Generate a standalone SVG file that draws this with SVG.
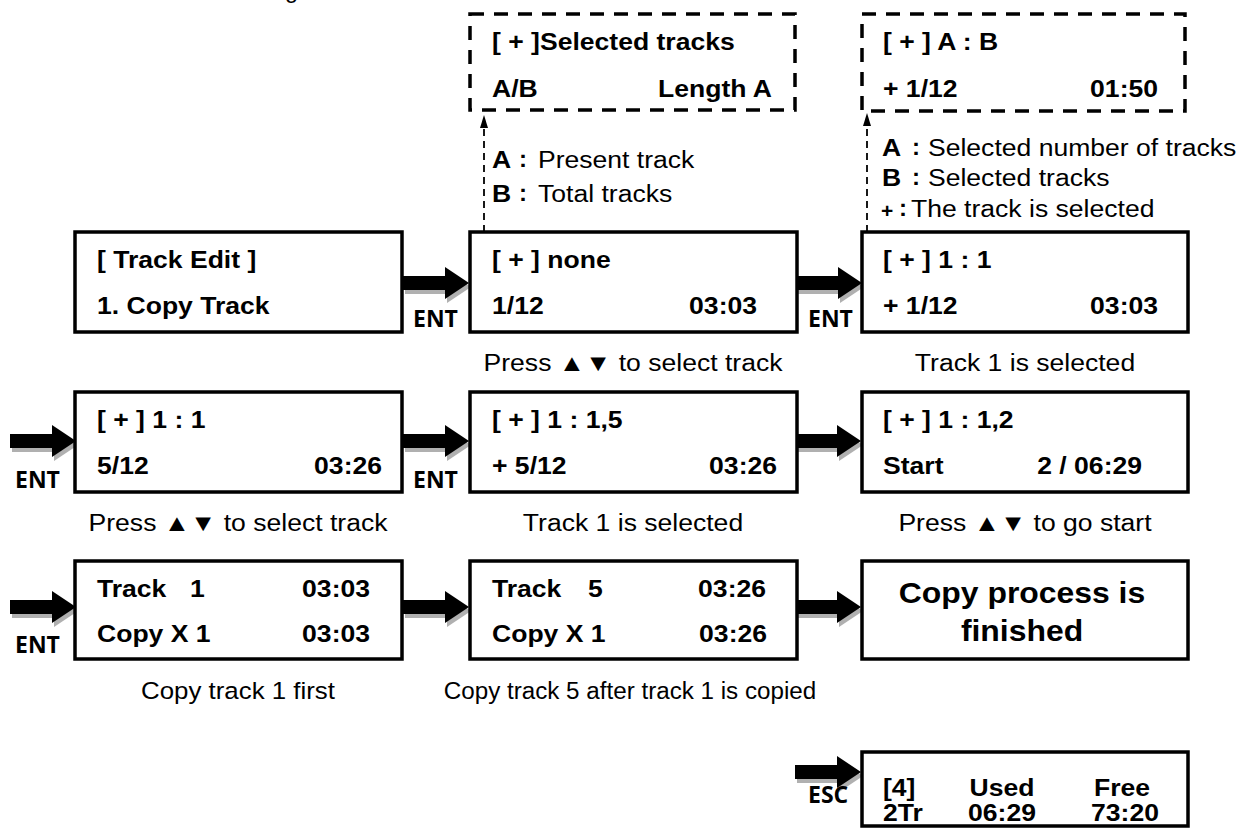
<svg xmlns="http://www.w3.org/2000/svg" xmlns:xlink="http://www.w3.org/1999/xlink" width="1246" height="828" viewBox="0 0 1246 828">
<style>
.b{font-family:"Liberation Sans",Arial,sans-serif;font-weight:bold;font-size:23.5px;fill:#000}
.r{font-family:"Liberation Sans",Arial,sans-serif;font-size:23.5px;fill:#000}
.big{font-family:"Liberation Sans",Arial,sans-serif;font-weight:bold;font-size:29px;fill:#000}
.ent{font-family:"Open Sans",sans-serif;font-weight:bold;font-size:23px;fill:#000}
.col{font-family:"Liberation Sans",Arial,sans-serif;font-size:24px;font-weight:bold;fill:#000}
.box{fill:#fff;stroke:#000;stroke-width:3.5}
.dbox{fill:none;stroke:#000;stroke-width:3.5;stroke-dasharray:14 10}
.dl{stroke:#000;stroke-width:1.8;stroke-dasharray:7 5;fill:none}
.sh{fill:#b0b0b0}
.mid{text-anchor:middle}
.end{text-anchor:end}
</style>
<defs>
<g id="arr">
<polygon class="sh" transform="translate(2,4)" points="-66,-7 -24,-7 -24,-16 0,0 -24,16 -24,7 -66,7"/>
<polygon fill="#000" points="-66,-7 -24,-7 -24,-16 0,0 -24,16 -24,7 -66,7"/>
</g>
</defs>
<rect width="1246" height="828" fill="#fff"/>
<text class="r" x="285" y="-2">g</text>

<g id="connectors">
<use xlink:href="#arr" x="469" y="283"/>
<use xlink:href="#arr" x="862" y="283"/>
<use xlink:href="#arr" x="76" y="441"/>
<use xlink:href="#arr" x="469" y="441"/>
<use xlink:href="#arr" x="861" y="441"/>
<use xlink:href="#arr" x="76" y="607"/>
<use xlink:href="#arr" x="469" y="607"/>
<use xlink:href="#arr" x="861" y="607"/>
<use xlink:href="#arr" x="861" y="772"/>
<line class="dl" x1="484" y1="232" x2="484" y2="126"/>
<polygon points="484,115 480,128 488,128" fill="#000"/>
<line class="dl" x1="867" y1="232" x2="867" y2="124"/>
<polygon points="867,113 863,126 871,126" fill="#000"/>
<text class="ent" x="413" y="327">ENT</text>
<text class="ent" x="808" y="327">ENT</text>
<text class="ent" x="15" y="488">ENT</text>
<text class="ent" x="413" y="488">ENT</text>
<text class="ent" x="15" y="653">ENT</text>
<text class="ent" x="808" y="803">ESC</text>
</g>

<g id="info-a">
<rect class="dbox" x="470" y="14" width="325" height="96"/>
<text class="b" transform="translate(492 50) scale(1.13 1)">[ + ]Selected tracks</text>
<text class="b" transform="translate(492 97) scale(1.13 1)">A/B</text>
<text class="b end" transform="translate(772 97) scale(1.13 1)">Length A</text>
</g>
<g id="legend-a">
<text class="b" transform="translate(492 168) scale(1.13 1)">A</text>
<text class="col mid" x="523" y="167">:</text>
<text class="r" transform="translate(538 168) scale(1.13 1)">Present track</text>
<text class="b" transform="translate(492 202) scale(1.13 1)">B</text>
<text class="col mid" x="523" y="201">:</text>
<text class="r" transform="translate(538 202) scale(1.13 1)">Total tracks</text>
</g>
<g id="info-b">
<rect class="dbox" x="862" y="14" width="323" height="97"/>
<text class="b" transform="translate(883 50) scale(1.13 1)">[ + ] A : B</text>
<text class="b" transform="translate(883 97) scale(1.13 1)">+ 1/12</text>
<text class="b end" transform="translate(1158 97) scale(1.13 1)">01:50</text>
</g>
<g id="legend-b">
<text class="b" transform="translate(882 156) scale(1.13 1)">A</text>
<text class="col mid" x="916" y="155">:</text>
<text class="r" transform="translate(928 156) scale(1.13 1)">Selected number of tracks</text>
<text class="b" transform="translate(882 186) scale(1.13 1)">B</text>
<text class="col mid" x="916" y="185">:</text>
<text class="r" transform="translate(928 186) scale(1.13 1)">Selected tracks</text>
<text class="b" style="font-size:21px" x="881" y="218">+</text>
<text class="col mid" x="903" y="216">:</text>
<text class="r" transform="translate(911 217) scale(1.13 1)">The track is selected</text>
</g>

<g id="n1">
<rect class="box" x="75" y="232" width="327" height="100"/>
<text class="b" transform="translate(97 268) scale(1.13 1)">[ Track Edit ]</text>
<text class="b" transform="translate(97 314) scale(1.13 1)">1. Copy Track</text>
</g>
<g id="n2">
<rect class="box" x="470" y="232" width="327" height="100"/>
<text class="b" transform="translate(492 268) scale(1.13 1)">[ + ] none</text>
<text class="b" transform="translate(492 314) scale(1.13 1)">1/12</text>
<text class="b end" transform="translate(757 314) scale(1.13 1)">03:03</text>
<text class="r mid" transform="translate(633 371) scale(1.13 1)">Press ▲▼ to select track</text>
</g>
<g id="n3">
<rect class="box" x="862" y="232" width="326" height="100"/>
<text class="b" transform="translate(883 268) scale(1.13 1)">[ + ] 1 : 1</text>
<text class="b" transform="translate(883 314) scale(1.13 1)">+ 1/12</text>
<text class="b end" transform="translate(1158 314) scale(1.13 1)">03:03</text>
<text class="r mid" transform="translate(1025 371) scale(1.13 1)">Track 1 is selected</text>
</g>
<g id="n4">
<rect class="box" x="75" y="392" width="327" height="100"/>
<text class="b" transform="translate(97 428) scale(1.13 1)">[ + ] 1 : 1</text>
<text class="b" transform="translate(97 474) scale(1.13 1)">5/12</text>
<text class="b end" transform="translate(382 474) scale(1.13 1)">03:26</text>
<text class="r mid" transform="translate(238 531) scale(1.13 1)">Press ▲▼ to select track</text>
</g>
<g id="n5">
<rect class="box" x="470" y="392" width="327" height="100"/>
<text class="b" transform="translate(492 428) scale(1.13 1)">[ + ] 1 : 1,5</text>
<text class="b" transform="translate(492 474) scale(1.13 1)">+ 5/12</text>
<text class="b end" transform="translate(777 474) scale(1.13 1)">03:26</text>
<text class="r mid" transform="translate(633 531) scale(1.13 1)">Track 1 is selected</text>
</g>
<g id="n6">
<rect class="box" x="862" y="392" width="326" height="100"/>
<text class="b" transform="translate(883 428) scale(1.13 1)">[ + ] 1 : 1,2</text>
<text class="b" transform="translate(883 474) scale(1.13 1)">Start</text>
<text class="b end" transform="translate(1142 474) scale(1.13 1)">2 / 06:29</text>
<text class="r mid" transform="translate(1025 531) scale(1.13 1)">Press ▲▼ to go start</text>
</g>
<g id="n7">
<rect class="box" x="75" y="561" width="327" height="98"/>
<text class="b" transform="translate(97 597) scale(1.13 1)">Track</text>
<text class="b" transform="translate(190 597) scale(1.13 1)">1</text>
<text class="b end" transform="translate(370 597) scale(1.13 1)">03:03</text>
<text class="b" transform="translate(97 642) scale(1.13 1)">Copy X 1</text>
<text class="b end" transform="translate(370 642) scale(1.13 1)">03:03</text>
<text class="r mid" transform="translate(238 699) scale(1.1 1)">Copy track 1 first</text>
</g>
<g id="n8">
<rect class="box" x="470" y="561" width="327" height="98"/>
<text class="b" transform="translate(492 597) scale(1.13 1)">Track</text>
<text class="b" transform="translate(588 597) scale(1.13 1)">5</text>
<text class="b end" transform="translate(766 597) scale(1.13 1)">03:26</text>
<text class="b" transform="translate(492 642) scale(1.13 1)">Copy X 1</text>
<text class="b end" transform="translate(767 642) scale(1.13 1)">03:26</text>
<text class="r mid" transform="translate(630 699) scale(1.03 1)">Copy track 5 after track 1 is copied</text>
</g>
<g id="n9">
<rect class="box" x="862" y="561" width="326" height="98"/>
<text class="big mid" transform="translate(1022 603) scale(1.1 1)">Copy process is</text>
<text class="big mid" transform="translate(1022 641) scale(1.1 1)">finished</text>
</g>
<g id="n10">
<rect class="box" x="862" y="752" width="326" height="74"/>
<text class="b" transform="translate(883 796) scale(1.13 1)">[4]</text>
<text class="b mid" transform="translate(1002 796) scale(1.13 1)">Used</text>
<text class="b mid" transform="translate(1122 796) scale(1.13 1)">Free</text>
<text class="b" transform="translate(883 821) scale(1.13 1)">2Tr</text>
<text class="b mid" transform="translate(1002 821) scale(1.13 1)">06:29</text>
<text class="b mid" transform="translate(1125 821) scale(1.13 1)">73:20</text>
</g>
</svg>
